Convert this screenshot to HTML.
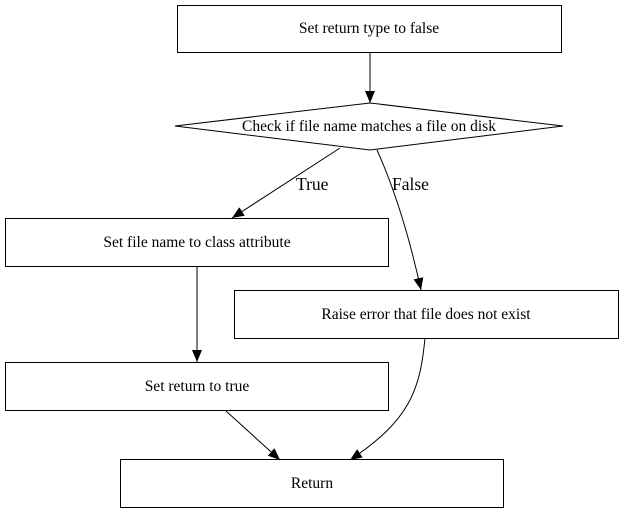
<!DOCTYPE html>
<html><head><style>html,body{margin:0;padding:0;background:#fff;}svg{display:block}text{font-family:"Liberation Serif","Times New Roman",serif;}</style></head>
<body>
<svg width="624" height="513" viewBox="0 0 624 513" xmlns="http://www.w3.org/2000/svg">
<defs><marker id="b" markerWidth="12" markerHeight="10" refX="12" refY="5" orient="auto" markerUnits="userSpaceOnUse"><path d="M0,0 L12,5 L0,10 Z" fill="#000"/></marker></defs>
<g fill="none" stroke="#000" stroke-width="1">
<rect x="177.5" y="5.5" width="384" height="47"/>
<polygon points="175,126 370,103 563,126 370,150"/>
<rect x="5.5" y="218.5" width="383" height="48"/>
<rect x="234.5" y="290.5" width="384" height="48"/>
<rect x="5.5" y="362.5" width="383" height="48"/>
<rect x="120.5" y="459.5" width="383" height="48"/>
<path d="M370,52 L370,103" marker-end="url(#b)"/>
<path d="M340,148 L232,218" marker-end="url(#b)"/>
<path d="M377,150 C395,190 410,240 421,290" marker-end="url(#b)"/>
<path d="M197,266 L197,362" marker-end="url(#b)"/>
<path d="M226,411 L280,460" marker-end="url(#b)"/>
<path d="M425,338 C420,390 410,420 350,460" marker-end="url(#b)"/>
</g>
<g font-size="15.5" text-anchor="middle" fill="#000">
<text x="369" y="33">Set return type to false</text>
<text x="369" y="131">Check if file name matches a file on disk</text>
<text x="197" y="247">Set file name to class attribute</text>
<text x="426" y="319">Raise error that file does not exist</text>
<text x="197" y="391">Set return to true</text>
<text x="312" y="488">Return</text>
</g>
<g font-size="17.5" fill="#000">
<text x="296" y="190">True</text>
<text x="392" y="190">False</text>
</g>
</svg>
</body></html>
